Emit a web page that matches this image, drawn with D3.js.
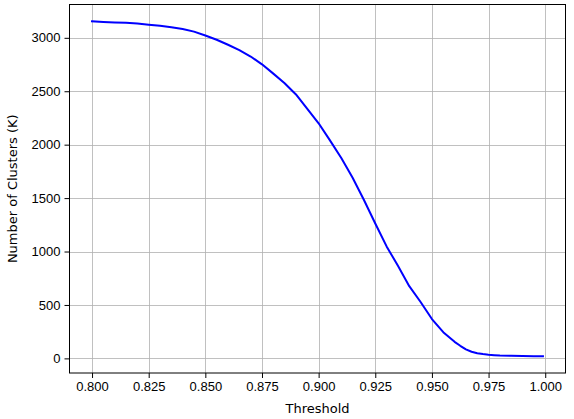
<!DOCTYPE html>
<html>
<head>
<meta charset="utf-8">
<script src="https://cdn.jsdelivr.net/npm/d3@7"></script>
<style>
  html, body { margin: 0; padding: 0; background: #fff; }
  svg { display: block; font-family: "DejaVu Sans", sans-serif; }
  .grid line { stroke: #b0b0b0; stroke-width: 0.8; shape-rendering: crispEdges; }
  .axis text { font-size: 13px; fill: #000; }
  .axis path { display: none; }
  .axis line { stroke: #000; stroke-width: 1; }
</style>
</head>
<body>
<div id="chart"></div>
<script>
(function () {
  'use strict';

  // threshold values (x) and number of clusters (y)
  var thresholds = [
    0.800, 0.805, 0.810, 0.815, 0.820, 0.825, 0.830, 0.835, 0.840, 0.845,
    0.850, 0.855, 0.860, 0.865, 0.870, 0.875, 0.880, 0.885, 0.890, 0.895,
    0.900, 0.905, 0.910, 0.915, 0.920, 0.925, 0.930, 0.935, 0.940, 0.945,
    0.950, 0.955, 0.960, 0.9625, 0.965, 0.9675, 0.970, 0.9725, 0.975, 0.9775,
    0.980, 0.985, 0.990, 0.995, 0.999
  ];
  var clusters = [
    3155, 3148, 3143, 3140, 3133, 3122, 3112, 3098, 3083, 3058,
    3022, 2982, 2935, 2885, 2825, 2752, 2665, 2575, 2470, 2335,
    2200, 2040, 1875, 1690, 1482, 1262, 1048, 866, 676, 528,
    368, 245, 155, 118, 85, 62, 48, 40, 34, 30,
    27, 24, 22, 21, 20
  ];
  var xTicks = [0.800, 0.825, 0.850, 0.875, 0.900, 0.925, 0.950, 0.975, 1.000];
  var yTicks = [0, 500, 1000, 1500, 2000, 2500, 3000];

  var width = 574;
  var height = 419;
  var left = 69.5, right = 565.5, top = 4.5, bottom = 373;

  var svg = d3.select('#chart').append('svg')
    .attr('width', width)
    .attr('height', height);

  // matplotlib-like 5% margins around the data
  var xExt = d3.extent(thresholds);
  var yExt = d3.extent(clusters);
  var xPad = (xExt[1] - xExt[0]) * 0.05;
  var yPad = (yExt[1] - yExt[0]) * 0.05;

  var x = d3.scaleLinear().domain([xExt[0] - xPad, xExt[1] + xPad]).range([left, right]);
  var y = d3.scaleLinear().domain([yExt[0] - yPad, yExt[1] + yPad]).range([bottom, top]);

  // grid
  var grid = svg.append('g').attr('class', 'grid');
  grid.selectAll('line.gx').data(xTicks).enter().append('line')
    .attr('x1', function (d) { return Math.round(x(d)) + 0.5; })
    .attr('x2', function (d) { return Math.round(x(d)) + 0.5; })
    .attr('y1', top).attr('y2', bottom);
  grid.selectAll('line.gy').data(yTicks).enter().append('line')
    .attr('y1', function (d) { return Math.round(y(d)) + 0.5; })
    .attr('y2', function (d) { return Math.round(y(d)) + 0.5; })
    .attr('x1', left).attr('x2', right);

  // the curve
  var line = d3.line()
    .x(function (d, i) { return x(thresholds[i]); })
    .y(function (d) { return y(d); });

  svg.append('path')
    .datum(clusters)
    .attr('d', line)
    .attr('fill', 'none')
    .attr('stroke', '#0000ff')
    .attr('stroke-width', 2)
    .attr('stroke-linejoin', 'round')
    .attr('stroke-linecap', 'square');

  // axes
  svg.append('g')
    .attr('class', 'axis')
    .attr('transform', 'translate(0,' + bottom + ')')
    .call(d3.axisBottom(x).tickValues(xTicks).tickFormat(d3.format('.3f')).tickSizeOuter(0).tickSize(5).tickPadding(4));

  svg.append('g')
    .attr('class', 'axis')
    .attr('transform', 'translate(' + left + ',0)')
    .call(d3.axisLeft(y).tickValues(yTicks).tickFormat(d3.format('d')).tickSizeOuter(0).tickSize(5).tickPadding(4));

  // frame
  svg.append('rect')
    .attr('x', left).attr('y', top)
    .attr('width', right - left).attr('height', bottom - top)
    .attr('fill', 'none')
    .attr('stroke', '#000')
    .attr('stroke-width', 1);

  svg.append('text')
    .attr('x', (left + right) / 2)
    .attr('y', 413)
    .attr('text-anchor', 'middle')
    .style('font-size', '13px')
    .text('Threshold');

  svg.append('text')
    .attr('transform', 'translate(16.5,' + (top + bottom) / 2 + ') rotate(-90)')
    .attr('text-anchor', 'middle')
    .style('font-size', '13px')
    .text('Number of Clusters (K)');
})();
</script>
</body>
</html>
